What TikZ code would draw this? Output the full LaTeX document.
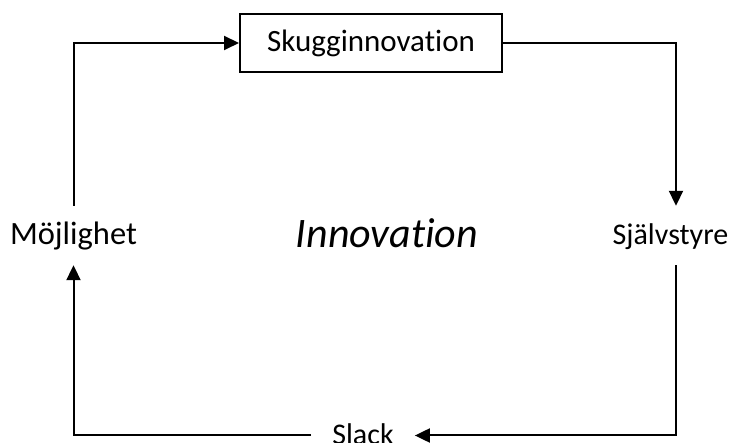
\documentclass[tikz,border=0pt]{standalone}
\usepackage{fontspec}
\setmainfont{Carlito}[Ligatures=NoCommon]
\usetikzlibrary{arrows.meta}
\begin{document}
\begin{tikzpicture}[x=1pt,y=-1pt,
  flow/.style={line width=2pt,-{Triangle[length=15pt,width=14pt]}},
  lbl/.style={font=\fontsize{30}{36}\selectfont,anchor=base,inner xsep=0pt,
    inner ysep=18pt,text height=21pt,text depth=2pt},
  stagebox/.style={draw,line width=2pt,minimum width=262pt,minimum height=58pt,
    inner sep=0pt,font=\fontsize{31}{37}\selectfont}]
  \useasboundingbox[fill=white] (0,0) rectangle (737,443);

  % stages of the cycle
  \node[stagebox] (shadow) at (371,43) {Skugginnovation};
  \node[lbl,font=\fontsize{32.5}{38}\selectfont] (opp) at (73.5,245) {Möjlighet};
  \node[lbl] (auto) at (670.5,245) {Självstyre};
  \node[lbl,inner xsep=21pt] (slack) at (363,445) {Slack};

  % centre title
  \node[anchor=base,font=\fontsize{42}{50}\selectfont\itshape] (title) at (387,248) {Innovation};

  % clockwise cycle
  \draw[flow] (opp.north) |- (shadow.west);
  \draw[flow] (shadow.east) -| ([xshift=5.5pt]auto.north);
  \draw[flow] ([xshift=5.5pt]auto.south) |- (slack.east);
  \draw[flow] (slack.west) -| (opp.south);
\end{tikzpicture}
\end{document}
